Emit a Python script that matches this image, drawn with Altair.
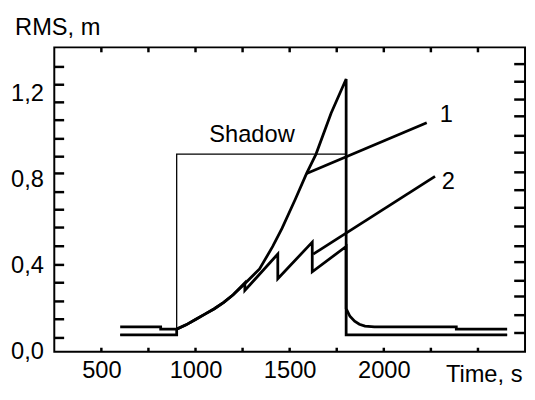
import altair as alt
import pandas as pd

# ---- data ----
shadow_t = [600, 900, 900, 1800, 1800, 2655]
shadow_v = [0.078, 0.078, 0.92, 0.92, 0.078, 0.078]

curve_a_t = [600, 815, 815, 900, 950, 1000, 1050, 1100, 1150, 1200, 1260, 1340,
             1410, 1460, 1530, 1590, 1640, 1720, 1800, 1800, 1820, 1845, 1870,
             1900, 1950, 2385, 2385, 2655]
curve_a_v = [0.115, 0.115, 0.105, 0.105, 0.125, 0.15, 0.175, 0.20, 0.23, 0.265,
             0.315, 0.385, 0.49, 0.575, 0.71, 0.83, 0.92, 1.11, 1.27, 0.20, 0.165,
             0.142, 0.128, 0.119, 0.115, 0.115, 0.105, 0.105]

curve_b_t = [600, 900, 900, 950, 1000, 1050, 1100, 1150, 1200, 1262, 1262, 1437,
             1437, 1620, 1620, 1800, 1800, 2655]
curve_b_v = [0.078, 0.078, 0.105, 0.125, 0.15, 0.175, 0.20, 0.23, 0.265, 0.32,
             0.285, 0.455, 0.34, 0.51, 0.372, 0.49, 0.078, 0.078]

line1_t = [1590, 2228]
line1_v = [0.83, 1.066]
line2_t = [1625, 2272]
line2_v = [0.454, 0.816]

label_text = ["1", "2", "Shadow"]
label_t = [2332, 2342, 1300]
label_v = [1.10, 0.79, 1.01]

y_label_values = [0.0, 0.4, 0.8, 1.2]
x_label_values = [500, 1000, 1500, 2000]
x_tick_values = [500, 750, 1000, 1250, 1500, 1750, 2000, 2250, 2500]
left_tick_values = [0.064, 0.151, 0.234, 0.321, 0.404, 0.491, 0.578, 0.661,
                    0.743, 0.83, 0.908, 0.991, 1.078, 1.161, 1.243, 1.326]
right_tick_values = [0.087, 0.170, 0.257, 0.330, 0.417, 0.491, 0.583, 0.670,
                     0.752, 0.835, 0.927, 1.005, 1.096, 1.174, 1.257, 1.339]

X_DOMAIN = [250, 2750]
Y_DOMAIN = [0, 1.417]
W, H = 478, 309
FONT = "Liberation Sans"

# ---- tables ----
def series(name, ts, vs):
    return [{"t": t, "v": v, "series": name, "i": k} for k, (t, v) in enumerate(zip(ts, vs))]

thick_df = pd.DataFrame(
    series("A", curve_a_t, curve_a_v)
    + series("B", curve_b_t, curve_b_v)
    + series("1", line1_t, line1_v)
    + series("2", line2_t, line2_v)
)
shadow_df = pd.DataFrame(series("shadow", shadow_t, shadow_v))
labels_df = pd.DataFrame({"t": label_t, "v": label_v, "text": label_text})
xt_df = pd.DataFrame({"t": x_tick_values})
lt_df = pd.DataFrame({"v": left_tick_values})
rt_df = pd.DataFrame({"v": right_tick_values})

xs = alt.Scale(domain=X_DOMAIN, nice=False, zero=False)
ys = alt.Scale(domain=Y_DOMAIN, nice=False, zero=False)

x_axis = alt.Axis(
    values=x_label_values, format="d", domain=False, ticks=False, grid=False,
    labelFont=FONT, labelFontSize=24, labelColor="black", labelPadding=7,
    title="Time, s", titleFont=FONT, titleFontSize=24, titleFontWeight="normal",
    titleColor="black", titleX=436, titleY=23, titleAlign="center",
    titleBaseline="middle", titleAngle=0,
)
y_axis = alt.Axis(
    values=y_label_values, domain=False, ticks=False, grid=False,
    labelExpr="replace(format(datum.value, '.1f'), '.', ',')",
    labelFont=FONT, labelFontSize=24, labelColor="black", labelPadding=11,
    labelBaseline="middle",
    title="RMS, m", titleFont=FONT, titleFontSize=24, titleFontWeight="normal",
    titleColor="black", titleX=3, titleY=-20, titleAlign="center",
    titleBaseline="middle", titleAngle=0,
)

X = alt.X("t:Q", scale=xs, axis=x_axis)
Y = alt.Y("v:Q", scale=ys, axis=y_axis)

thick = alt.Chart(thick_df).mark_line(color="black", strokeWidth=2.8).encode(
    x=X, y=Y, detail="series:N", order="i:Q",
)
shadow = alt.Chart(shadow_df).mark_line(color="black", strokeWidth=1.3).encode(
    x=X, y=Y, order="i:Q",
)
texts = alt.Chart(labels_df).mark_text(
    font=FONT, fontSize=24, color="black", align="center", baseline="middle"
).encode(x=X, y=Y, text="text:N")
bottom_ticks = alt.Chart(xt_df).mark_rule(color="black", strokeWidth=2.5).encode(
    x=X, y=alt.value(H - 4), y2=alt.value(H)
)
top_ticks = alt.Chart(xt_df).mark_rule(color="black", strokeWidth=2.5).encode(
    x=X, y=alt.value(0), y2=alt.value(5)
)
left_ticks = alt.Chart(lt_df).mark_rule(color="black", strokeWidth=2.5).encode(
    y=Y, x=alt.value(0), x2=alt.value(10)
)
right_ticks = alt.Chart(rt_df).mark_rule(color="black", strokeWidth=2.5).encode(
    y=Y, x=alt.value(W - 11), x2=alt.value(W)
)

chart = alt.layer(
    thick, shadow, texts, bottom_ticks, top_ticks, left_ticks, right_ticks
).properties(
    width=W, height=H,
    autosize=alt.AutoSizeParams(type="none"),
    padding={"left": 47, "top": 37, "right": 2, "bottom": 40},
    background="white",
).configure_view(stroke="black", strokeWidth=2)

chart.save("out.html", embed_options={"renderer": "svg", "actions": False})
